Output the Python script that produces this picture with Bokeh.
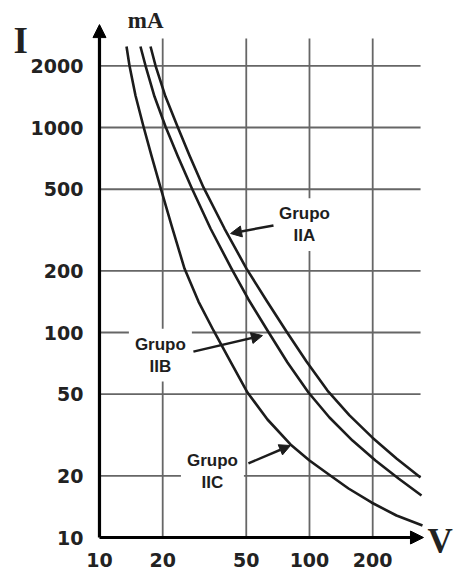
from bokeh.plotting import figure
from bokeh.models import Arrow, NormalHead, Label, Range1d
from bokeh.core.properties import value
from bokeh.embed import file_html
from bokeh.resources import INLINE

# ---- data ----
V_TICKS = [10, 20, 50, 100, 200]
I_TICKS = [10, 20, 50, 100, 200, 500, 1000, 2000]

IIA_V = [17.5, 18.48, 20.62, 23.52, 26.83, 31.28, 39.37, 50.12, 62.41, 77.71, 96.76, 121.8, 155.1, 199.5, 259.6, 337.8]
IIA_I = [2484, 2006, 1416, 1011, 730, 510, 321.6, 205, 143.2, 101.1, 72.2, 52.1, 39.4, 30.7, 24.3, 19.6]

IIB_V = [15.67, 16.56, 18.28, 20.62, 23.52, 27.42, 33.78, 42.52, 51.23, 63.1, 78.57, 98.9, 124.5, 160.3, 206.2, 265.4, 341.5]
IIB_I = [2484, 2006, 1416, 1011, 730, 510, 321.6, 205, 144.9, 102.3, 71.4, 50.96, 38.5, 29.7, 23.75, 19.4, 16.03]

IIC_V = [13.45, 13.89, 14.84, 16.2, 17.68, 19.52, 22.03, 25.4, 29.61, 34.91, 42.06, 50.68, 63.1, 81.21, 100, 121.8, 153.4, 197.3, 259.6, 345.2]
IIC_I = [2484, 2006, 1432, 1011, 730, 510, 333, 205, 141.6, 102.3, 72.2, 50.96, 37.64, 28.43, 23.75, 20.52, 17.34, 14.82, 12.8, 11.44]

GROUP_LABELS = ["Grupo\nIIA", "Grupo\nIIB", "Grupo\nIIC"]

# ---- layout constants (data-space extents of the drawing) ----
X_START, X_END = 3.378, 490.4
Y_START, Y_END = 6.903, 4165
GRID_RIGHT, GRID_TOP = 338, 2717
X_TIP, Y_TIP = 349, 3177
INK = "#1c1c1c"
TXT = "#222222"
GRID = "#666666"

p = figure(width=454, height=570, x_axis_type="log", y_axis_type="log",
           x_range=Range1d(X_START, X_END), y_range=Range1d(Y_START, Y_END),
           output_backend="svg", toolbar_location=None,
           min_border_left=0, min_border_right=0, min_border_top=0, min_border_bottom=0)
p.outline_line_color = None
p.grid.visible = False
p.xaxis.visible = False
p.yaxis.visible = False
p.background_fill_color = "white"
p.border_fill_color = "white"

# grid lines built from tick arrays
nx = len(V_TICKS) - 1
ny = len(I_TICKS) - 1
p.segment(x0=V_TICKS[1:], y0=[I_TICKS[0]] * nx, x1=V_TICKS[1:], y1=[GRID_TOP] * nx,
          line_color=GRID, line_width=1.8)
p.segment(x0=[V_TICKS[0]] * ny, y0=I_TICKS[1:], x1=[GRID_RIGHT] * ny, y1=I_TICKS[1:],
          line_color=GRID, line_width=1.8)

# tick labels placed through the scales
p.text(x=[V_TICKS[0]] * len(I_TICKS), y=I_TICKS, text=[str(t) for t in I_TICKS],
       x_offset=-16, y_offset=0, text_align="right", text_baseline="middle",
       text_font=value("DejaVu Sans"), text_font_style="bold", text_font_size="19px",
       text_color=TXT)
p.text(x=V_TICKS, y=[I_TICKS[0]] * len(V_TICKS), text=[str(t) for t in V_TICKS],
       x_offset=0, y_offset=22, text_align="center", text_baseline="middle",
       text_font=value("DejaVu Sans"), text_font_style="bold", text_font_size="19px",
       text_color=TXT)

# curves
for vv, ii in ((IIA_V, IIA_I), (IIB_V, IIB_I), (IIC_V, IIC_I)):
    p.line(vv, ii, line_color=INK, line_width=2.6, line_join="round")

# group labels (white boxes)
label_pos = [(94.6, 336), (19.5, 77.6), (34.5, 21.0)]
for (lx, ly), txt in zip(label_pos, GROUP_LABELS):
    p.add_layout(Label(x=lx, y=ly, text=txt, text_align="center", text_baseline="middle",
                       text_font="Liberation Sans", text_font_style="bold", text_font_size="17px",
                       text_color="#1e1e1e", text_line_height=1.15,
                       background_fill_color="white", padding=6))

# pointer arrows
pointers = [((67.4, 333), (42.1, 304)), ((28.0, 80.7), (59.7, 96.6)), ((51.2, 23.0), (81.2, 28.1))]
for (xs, ys), (xe, ye) in pointers:
    p.add_layout(Arrow(end=NormalHead(size=11, fill_color=INK, line_color=INK, line_width=1),
                       x_start=xs, y_start=ys, x_end=xe, y_end=ye,
                       line_color=INK, line_width=2.5))

# axes lines with arrowheads
p.add_layout(Arrow(end=NormalHead(size=13, fill_color="black", line_color="black", line_width=1),
                   x_start=V_TICKS[0], y_start=I_TICKS[0], x_end=V_TICKS[0], y_end=Y_TIP,
                   line_color="black", line_width=3.2))
p.add_layout(Arrow(end=NormalHead(size=13, fill_color="black", line_color="black", line_width=1),
                   x_start=V_TICKS[0], y_start=I_TICKS[0], x_end=X_TIP, y_end=I_TICKS[0],
                   line_color="black", line_width=3.2))

# axis titles
p.add_layout(Label(x=4.21, y=2672, text="I", text_align="center", text_baseline="middle",
                   text_font="Liberation Serif", text_font_style="bold", text_font_size="37px",
                   text_color=TXT))
p.add_layout(Label(x=16.6, y=3327, text="mA", text_align="center", text_baseline="middle",
                   text_font="Liberation Serif", text_font_style="bold", text_font_size="23px",
                   text_color=TXT))
p.add_layout(Label(x=364.7, y=9.58, text="V", text_align="left", text_baseline="middle",
                   text_font="Liberation Serif", text_font_style="bold", text_font_size="35px",
                   text_color=TXT))

open("out.html", "w").write(file_html(p, INLINE))
